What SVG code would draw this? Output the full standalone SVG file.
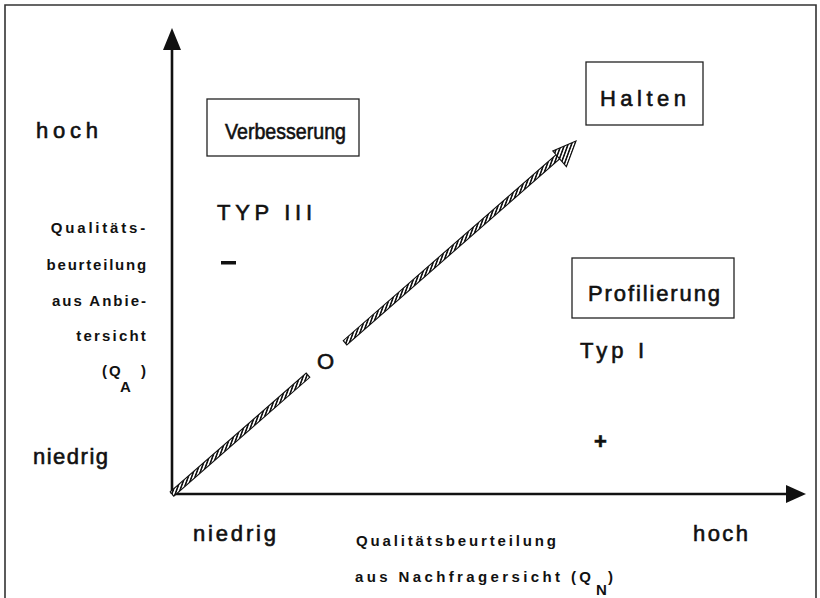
<svg xmlns="http://www.w3.org/2000/svg" width="820" height="598" viewBox="0 0 820 598">
<style>
 .t{font-family:"Liberation Sans",Arial,Helvetica,sans-serif;fill:#111;}
 .big{font-size:22px;stroke:#111;stroke-width:0.6;}
 .sm{font-size:15px;font-weight:bold;}
 .box{fill:#fff;stroke:#222;stroke-width:1.3;}
 .axis{stroke:#111;stroke-width:2.6;fill:none;}
 .frame{stroke:#333;stroke-width:1.6;fill:none;}
 .hat{fill:url(#hatch);stroke:#111;stroke-width:1.1;}
</style>
<defs>
 <pattern id="hatch" width="3.2" height="3.2" patternUnits="userSpaceOnUse" patternTransform="rotate(20)">
  <rect width="3.2" height="3.2" fill="#fff"/>
  <rect width="1.6" height="3.2" fill="#111"/>
 </pattern>
</defs>
<path class="frame" d="M5,598 V5 H816 V598"/>
<g id="connectors">
 <path class="axis" d="M172,494 V46"/>
 <polygon points="172,28 163,50 181,50" fill="#111"/>
 <path class="axis" d="M172,494 H788"/>
 <polygon points="806,494 786,485 786,503" fill="#111"/>
 <g id="diagonal">
  <polygon class="hat" points="170.2,491.9 173.8,496.1 309.8,377.3 306.2,373.1"/>
  <polygon class="hat" points="343.2,340.7 346.8,344.9 561.6,157.2 558.0,153.0"/>
  <polygon class="hat" points="576,141 566.4,166.7 552.8,151.0"/>
 </g>
</g>
<g id="node-verbesserung"><rect class="box" x="207" y="99" width="152" height="57"/><text class="t big" x="225" y="139" font-size="23" textLength="121" lengthAdjust="spacingAndGlyphs">Verbesserung</text></g>
<g id="node-halten"><rect class="box" x="586" y="62" width="117" height="63"/><text class="t big" x="600" y="106" font-size="24" textLength="86" lengthAdjust="spacing">Halten</text></g>
<g id="node-profilierung"><rect class="box" x="572" y="258" width="162" height="60"/><text class="t big" x="588" y="301" textLength="132" lengthAdjust="spacing">Profilierung</text></g>
<g id="labels">
 <text class="t big" x="36" y="138" textLength="62" lengthAdjust="spacing">hoch</text>
 <text class="t big" x="33" y="464" textLength="75" lengthAdjust="spacing">niedrig</text>
 <text class="t sm" x="148" y="233" text-anchor="end" letter-spacing="2.8">Qualitäts-</text>
 <text class="t sm" x="148" y="270" text-anchor="end" letter-spacing="1.8">beurteilung</text>
 <text class="t sm" x="148" y="306" text-anchor="end" letter-spacing="2">aus Anbie-</text>
 <text class="t sm" x="148" y="341" text-anchor="end" letter-spacing="2.2">tersicht</text>
 <text class="t sm" x="102" y="376" letter-spacing="2">(Q</text>
 <text class="t sm" x="141" y="376">)</text>
 <text class="t sm" x="120" y="392">A</text>
 <text class="t big" x="217" y="220" font-size="23" textLength="95" lengthAdjust="spacing">TYP III</text>
 <rect x="221" y="261" width="15" height="3.5" fill="#111"/>
 <text class="t big" x="317" y="369" font-size="26">O</text>
 <text class="t big" x="580" y="358" font-size="23" textLength="64" lengthAdjust="spacing">Typ I</text>
 <text class="t big" x="594" y="449" font-size="24" font-weight="bold">+</text>
 <text class="t big" x="193" y="541" textLength="83" lengthAdjust="spacing">niedrig</text>
 <text class="t big" x="693" y="541" textLength="55" lengthAdjust="spacing">hoch</text>
 <text class="t sm" x="356" y="546" textLength="200" lengthAdjust="spacing">Qualitätsbeurteilung</text>
 <text class="t sm" x="355" y="582" textLength="236" lengthAdjust="spacing">aus Nachfragersicht (Q</text>
 <text class="t sm" x="596" y="595">N</text>
 <text class="t sm" x="608" y="582">)</text>
</g>
</svg>
